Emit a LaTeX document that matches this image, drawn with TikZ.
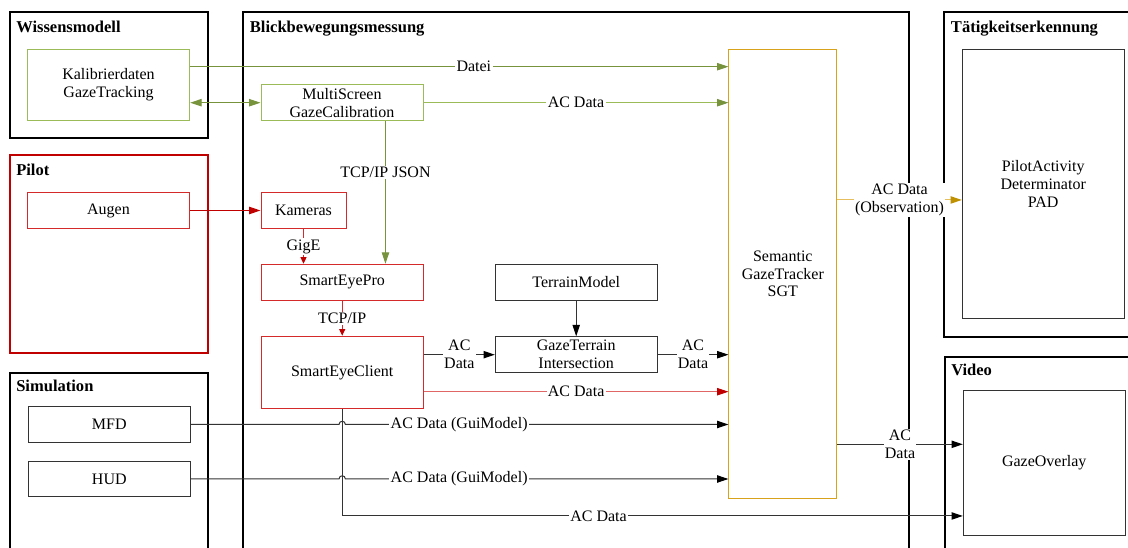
\documentclass[tikz,border=0pt]{standalone}
\usepackage{fontspec}
\setmainfont{Liberation Serif}
\usetikzlibrary{arrows.meta,calc}

\definecolor{grnD}{HTML}{77933C}
\definecolor{grnL}{HTML}{9BBB59}
\definecolor{redC}{HTML}{C00000}
\definecolor{redB}{HTML}{D42A2A}
\definecolor{redL}{HTML}{E06666}
\definecolor{orC}{HTML}{D9A21B}
\definecolor{orL}{HTML}{E6BE5E}
\definecolor{orH}{HTML}{BF9000}
\definecolor{dk}{HTML}{333333}

\begin{document}
\begin{tikzpicture}[x=0.75pt,y=-0.75pt,
  every node/.style={font=\fontsize{12pt}{13.4pt}\selectfont, text=black},
  frame/.style={line width=1.5pt},
  hdr/.style={font=\bfseries\fontsize{12.4pt}{14pt}\selectfont, inner sep=0pt, anchor=base west},
  blk/.style={draw, line width=0.75pt, inner sep=0pt, align=center},
  lbl/.style={fill=white, inner sep=1pt, align=center, text=black},
  conn/.style={line width=0.75pt},
  tipG/.style={-{Triangle[length=8.5pt,width=5.5pt,color=grnD]}},
  tipR/.style={-{Triangle[length=8.5pt,width=5.5pt,color=redC]}},
  tipRs/.style={-{Triangle[length=5pt,width=4.5pt,color=redC]}},
  tipK/.style={-{Triangle[length=8.5pt,width=5.5pt,color=black]}},
  tipO/.style={-{Triangle[length=8.5pt,width=5.5pt,color=orH]}}]

\useasboundingbox (0,0) rectangle (1128,548);
\fill[white] (0,0) rectangle (1128,548);

% containers
\draw[frame] (10,12) rectangle (208,138);
\draw[frame, draw=redC] (10,155) rectangle (208,353);
\draw[frame] (10,560) |- (208,373) -- (208,560);
\draw[frame] (243,560) |- (909,12) -- (909,560);
\draw[frame] (1140,12) -| (944,336.7) -- (1140,336.7);
\draw[frame] (1140,356.7) -| (944.5,560);

% container titles
\node[hdr] (hWissen) at (16,32.3) {Wissensmodell};
\node[hdr] (hBlick) at (249.7,32.3) {Blickbewegungsmessung};
\node[hdr] (hPilot) at (16,175.7) {Pilot};
\node[hdr] (hSim) at (16,391.7) {Simulation};
\node[hdr] (hTaet) at (950.7,32.3) {Tätigkeitserkennung};
\node[hdr] (hVideo) at (951,375.7) {Video};

% components
\node[blk, draw=grnL, minimum width=121.8pt, minimum height=53.8pt] (kal) at (108.5,84.9) {Kalibrierdaten\\GazeTracking};
\node[blk, draw=grnL, minimum width=121.5pt, minimum height=27pt] (ms) at (342,102.7) {MultiScreen\\GazeCalibration};
\node[blk, draw=redB, minimum width=121.8pt, minimum height=27.3pt] (aug) at (108.5,210.5) {Augen};
\node[blk, draw=redB, minimum width=63.75pt, minimum height=27.3pt] (kam) at (303.5,210.5) {Kameras};
\node[blk, draw=redB, minimum width=121.7pt, minimum height=27pt] (sep) at (342.2,282.3) {SmartEyePro};
\node[blk, draw=redB, minimum width=121.7pt, minimum height=54.4pt] (sec) at (342.2,372.5) {SmartEyeClient};
\node[blk, draw=dk, minimum width=121.3pt, minimum height=27pt] (tm) at (576.2,282.3) {TerrainModel};
\node[blk, draw=dk, minimum width=121.3pt, minimum height=27pt] (gti) at (576.2,354.7) {GazeTerrain\\Intersection};
\node[blk, draw=dk, minimum width=121.5pt, minimum height=26.7pt] (mfd) at (109.3,424.5) {MFD};
\node[blk, draw=dk, minimum width=121.5pt, minimum height=26.6pt] (hud) at (109.3,479) {HUD};
\node[blk, draw=orC, minimum width=80.8pt, minimum height=336.75pt] (sgt) at (782.8,273.8) {Semantic\\GazeTracker\\SGT};
\node[blk, draw=dk, minimum width=121.3pt, minimum height=202pt] (pad) at (1043.2,183.7) {PilotActivity\\Determinator\\PAD};
\node[blk, draw=dk, minimum width=121.3pt, minimum height=108.2pt] (gov) at (1044.2,462.9) {GazeOverlay};

% calibration data flows
\coordinate (dateiA) at ([yshift=13.65pt]kal.east);
\draw[conn, grnD, tipG] (dateiA) -- node[lbl, pos=0.527] {Datei} (dateiA -| sgt.west);
\draw[conn, grnD, {Triangle[length=8.5pt,width=5.5pt]}-{Triangle[length=8.5pt,width=5.5pt]}] (ms.west -| kal.east) -- (ms.west);
\draw[conn, grnL, tipG] (ms.east) -- node[lbl] {AC Data} (ms.east -| sgt.west);
\coordinate (jsonA) at ([xshift=32.6pt]ms.south);
\draw[conn, grnD, tipG] (jsonA) -- node[lbl, pos=0.36] {TCP/IP JSON} (jsonA |- sep.north);

% eye tracking chain
\draw[conn, redC, tipR] (aug.east) -- (kam.west);
\draw[conn, redB, tipRs] (kam.south) -- node[lbl] {GigE} (kam.south |- sep.north);
\draw[conn, redB, tipRs] (sep.south) -- node[lbl] {TCP/IP} (sec.north);
\draw[conn, dk, tipK] (sec.east |- gti.west) -- node[lbl] {AC\\Data} (gti.west);
\draw[conn, dk, tipK] (tm.south) -- (gti.north);
\draw[conn, dk, tipK] (gti.east) -- node[lbl] {AC\\Data} (gti.east -| sgt.west);
\coordinate (redA) at ([yshift=-14.4pt]sec.east);
\draw[conn, redL, tipR] (redA) -- node[lbl] {AC Data} (redA -| sgt.west);

% client output to the video overlay
\coordinate (ovA) at ([yshift=-39.8pt]gov.west);
\draw[conn, dk, tipK] (sec.south) |- node[lbl, pos=0.7065] {AC Data} (ovA);

% simulation displays, hopping over the client line
\coordinate (j1) at (sec.south |- mfd.east);
\draw[conn, dk, tipK] (mfd.east) -- ([xshift=-2.4pt]j1)
  .. controls ([xshift=-2.4pt,yshift=3.2pt]j1) and ([xshift=2.4pt,yshift=3.2pt]j1) .. ([xshift=2.4pt]j1)
  -- node[lbl, pos=0.297] {AC Data (GuiModel)} (mfd.east -| sgt.west);
\coordinate (j2) at (sec.south |- hud.east);
\draw[conn, dk, tipK] (hud.east) -- ([xshift=-2.4pt]j2)
  .. controls ([xshift=-2.4pt,yshift=3.2pt]j2) and ([xshift=2.4pt,yshift=3.2pt]j2) .. ([xshift=2.4pt]j2)
  -- node[lbl, pos=0.297] {AC Data (GuiModel)} (hud.east -| sgt.west);

% tracker outputs
\coordinate (ovB) at ([yshift=13.95pt]gov.west);
\draw[conn, dk, tipK] (ovB -| sgt.east) -- node[lbl] {AC\\Data} (ovB);
\coordinate (padA) at ([yshift=-12.2pt]pad.west);
\draw[conn, orL, tipO] (padA -| sgt.east) -- node[lbl] {AC Data\\(Observation)} (padA);

\end{tikzpicture}
\end{document}
